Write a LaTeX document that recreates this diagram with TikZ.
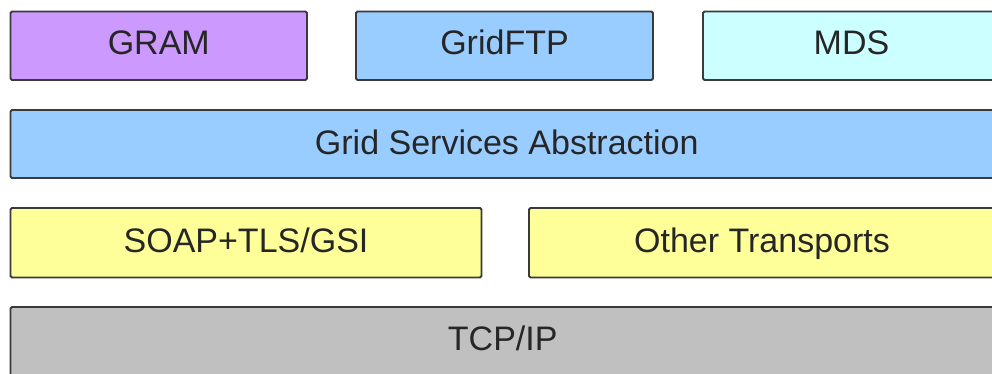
\documentclass[tikz,border=0pt]{standalone}
\usepackage{fontspec}
\setmainfont{Liberation Sans}
\definecolor{gramc}{HTML}{CC99FF}
\definecolor{bluec}{HTML}{99CCFF}
\definecolor{cyanc}{HTML}{CCFFFF}
\definecolor{yellc}{HTML}{FFFF99}
\definecolor{grayc}{HTML}{C0C0C0}
\definecolor{linec}{HTML}{3A3A3A}
\definecolor{textc}{HTML}{262626}
\begin{document}
\begin{tikzpicture}[x=1pt,y=-1pt,
  lay/.style={draw=linec, line width=1.8pt, rounded corners=1.5pt, inner sep=0pt,
    font=\fontsize{34}{40}\selectfont, text=textc, text height=24.3pt, text depth=#1},
  lay/.default=4pt]
\useasboundingbox (0,0) rectangle (992,374);
\fill[white] (0,0) rectangle (992,374);
\clip (0,0) rectangle (992,374);
% row 1
\node[lay=7.4pt, fill=gramc, minimum width=296.5pt, minimum height=68.5pt] (gram) at (158.75,45.75) {GRAM};
\node[lay=7.4pt, fill=bluec, minimum width=297pt, minimum height=68.5pt] (gridftp) at (504.5,45.75) {GridFTP};
\node[lay=7.4pt, fill=cyanc, minimum width=297pt, minimum height=68.5pt] (mds) at (851.5,45.75) {MDS};
% row 2
\node[lay=3pt, fill=bluec, minimum width=992.5pt, minimum height=68pt] (gsa) at (506.75,144) {Grid Services Abstraction};
% row 3
\node[lay=4pt, fill=yellc, minimum width=471pt, minimum height=69.5pt] (soap) at (246,242.75) {SOAP+TLS/GSI};
\node[lay=4pt, fill=yellc, minimum width=466pt, minimum height=69.5pt] (other) at (762,242.75) {Other Transports};
% row 4
\node[lay=7pt, fill=grayc, minimum width=984.5pt, minimum height=69pt] (tcp) at (502.75,341.5) {TCP/IP};
\end{tikzpicture}
\end{document}
